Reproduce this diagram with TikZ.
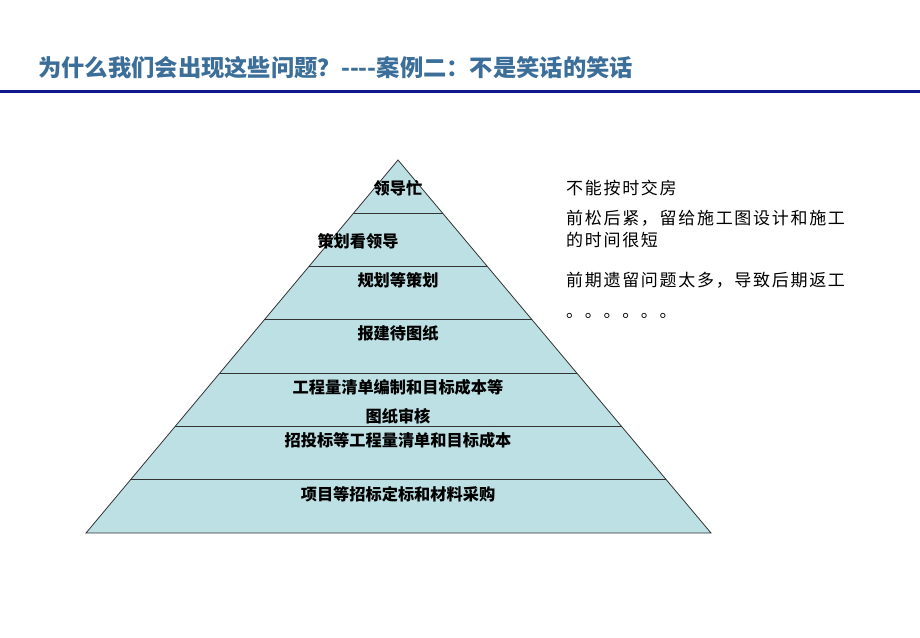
\documentclass[tikz,border=0pt]{standalone}
\usepackage{fontspec}
\newfontfamily\cjk{Noto Sans CJK SC}
\newfontfamily\cjknote{Noto Sans CJK SC}[LetterSpace=10]
\usetikzlibrary{calc}
\definecolor{titleblue}{RGB}{59,110,152}
\definecolor{rulenavy}{RGB}{14,24,140}
\definecolor{layerfill}{RGB}{188,224,227}

\begin{document}
\begin{tikzpicture}[x=1pt,y=-1pt,
		layer label/.style={font=\cjk\bfseries\fontsize{16.2}{18}\selectfont,inner sep=0pt},
		note text/.style={font=\cjknote\fontsize{17}{22}\selectfont,anchor=west,inner sep=0pt,align=left}]
	\useasboundingbox (0,0) rectangle (920,637);
	% title and rule
	\node[anchor=west,inner sep=0pt,text=titleblue,font=\cjk\bfseries\fontsize{23.3}{26}\selectfont] (title) at (38,68) {为什么我们会出现这些问题？----案例二：不是笑话的笑话};
	\coordinate (rule left) at (0,91);
	\coordinate (rule right) at (920,91);
	\draw[rulenavy,line width=3pt] (rule left) -- (rule right);
	% pyramid
	\coordinate (apex) at (398,160);
	\coordinate (base left) at (86,533);
	\coordinate (base right) at (711,533);
	\fill[layerfill] (apex) -- (base left) -- (base right) -- cycle;
	\foreach \i in {1,...,6}
		\draw[black!80,line width=0.8pt] ($(apex)!\i/7!(base left)$) -- ($(apex)!\i/7!(base right)$);
	\draw[black!80,line width=0.8pt] (apex) -- (base left) -- (base right) -- cycle;
	% layer labels
	\node[layer label] (l1) at (398,188) {领导忙};
	\node[layer label] (l2) at (358,241) {策划看领导};
	\node[layer label] (l3) at (398,280) {规划等策划};
	\node[layer label] (l4) at (398,333) {报建待图纸};
	\node[layer label] (l5a) at (398,387) {工程量清单编制和目标成本等};
	\node[layer label] (l5b) at (398,416) {图纸审核};
	\node[layer label] (l6) at (398,440) {招投标等工程量清单和目标成本};
	\node[layer label] (l7) at (398,494) {项目等招标定标和材料采购};
	% notes on the right
	\node[note text] (n1) at (566,188) {不能按时交房};
	\node[note text,anchor=north west] (n2) at (566,210) {前松后紧，留给施工图设计和施工\\的时间很短};
	\node[note text] (n3) at (566,280) {前期遗留问题太多，导致后期返工};
	\node[note text] (n4) at (566,316) {。。。。。。};
\end{tikzpicture}
\end{document}
